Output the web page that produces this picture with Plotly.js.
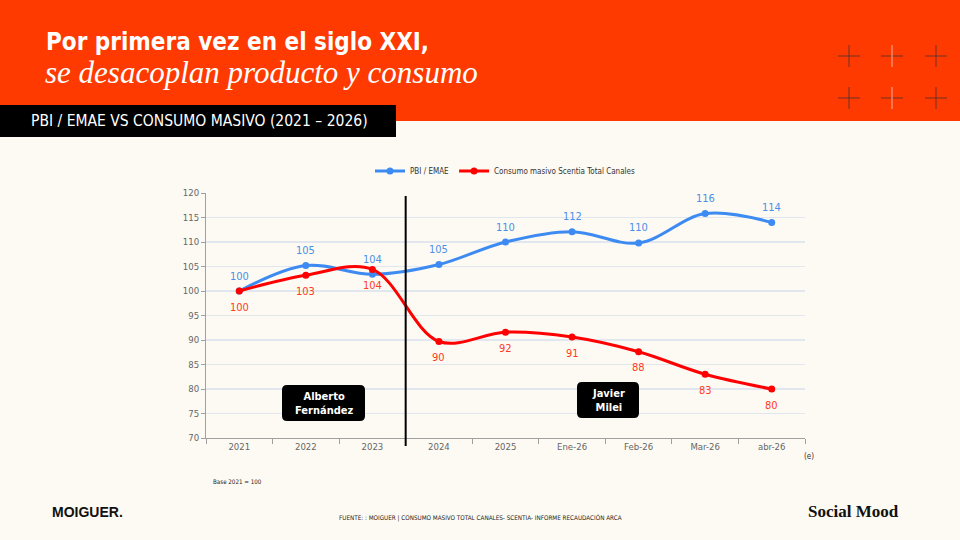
<!DOCTYPE html>
<html>
<head>
<meta charset="utf-8">
<script src="https://cdn.plot.ly/plotly-3.0.1.min.js"></script>
<style>
html,body{margin:0;padding:0;background:#FDFAF3;}
#chart{width:960px;height:540px;}
</style>
</head>
<body>
<div id="chart"></div>
<script>
// ---- data ----
const categories = ["2021","2022","2023","2024","2025","Ene-26","Feb-26","Mar-26","abr-26"];
const pbiValues = [100, 105.2, 103.4, 105.4, 110.0, 112.1, 109.8, 115.8, 114.0];
const pbiLabels = ["100","105","104","105","110","112","110","116","114"];
const consumoValues = [100, 103.2, 104.4, 89.7, 91.6, 90.6, 87.6, 83.0, 80.0];
const consumoLabels = ["100","103","104","90","92","91","88","83","80"];
const seriesNames = ["PBI / EMAE", "Consumo masivo Scentia Total Canales"];
const yTicks = [70,75,80,85,90,95,100,105,110,115,120];

// ---- layout helpers (page pixels -> paper) ----
const L=206, R=805, T=193, B=438;
const px = x => (x-L)/(R-L);
const py = y => (B-y)/(B-T);
function rr(x0,y0,x1,y1,r){
  return `M ${px(x0+r)},${py(y0)} L ${px(x1-r)},${py(y0)} Q ${px(x1)},${py(y0)} ${px(x1)},${py(y0+r)} `+
         `L ${px(x1)},${py(y1-r)} Q ${px(x1)},${py(y1)} ${px(x1-r)},${py(y1)} `+
         `L ${px(x0+r)},${py(y1)} Q ${px(x0)},${py(y1)} ${px(x0)},${py(y1-r)} `+
         `L ${px(x0)},${py(y0+r)} Q ${px(x0)},${py(y0)} ${px(x0+r)},${py(y0)} Z`;
}
const COND = "'DejaVu Sans Condensed', 'Liberation Sans Narrow', 'Arial Narrow', sans-serif";
const BLUE = "#3D8BF2", RED = "#FF0000";
const BLUE_T = "#4A90E8", RED_T = "#FF3B1F";

const traces = [
  {x: categories, y: pbiValues, name: seriesNames[0], type: "scatter", mode: "lines+markers",
   line: {color: BLUE, width: 3, shape: "spline", smoothing: 1}, marker: {color: BLUE, size: 7}},
  {x: categories, y: consumoValues, name: seriesNames[1], type: "scatter", mode: "lines+markers",
   line: {color: RED, width: 3, shape: "spline", smoothing: 1}, marker: {color: RED, size: 7}}
];

const annotations = [];
categories.forEach((c,i)=>{
  annotations.push({x:i, y:pbiValues[i], xref:"x", yref:"y", text:pbiLabels[i], showarrow:false,
    yshift:15, font:{family:COND, size:11, color:BLUE_T}});
  annotations.push({x:i, y:consumoValues[i], xref:"x", yref:"y", text:consumoLabels[i], showarrow:false,
    yshift:-16, font:{family:COND, size:11, color:RED_T}});
});
function txt(x,y,text,font,xanchor){
  annotations.push({xref:"paper", yref:"paper", x:px(x), y:py(y), text:text, showarrow:false,
    xanchor:xanchor||"left", yanchor:"middle", font:font, align:"center"});
}
txt(44, 42, "<b>Por primera vez en el siglo XXI,</b>", {family:COND, size:24, color:"#ffffff"});
txt(43, 73, "<i>se desacoplan producto y consumo</i>", {family:"'Liberation Serif', 'DejaVu Serif', serif", size:31, color:"#ffffff"});
txt(29, 121, "PBI / EMAE VS CONSUMO MASIVO (2021 – 2026)", {family:COND, size:15.5, color:"#ffffff"});
txt(323.5, 403, "<b>Alberto<br>Fernández</b>", {family:COND, size:11, color:"#ffffff"}, "center");
txt(608, 400, "<b>Javier<br>Milei</b>", {family:COND, size:11, color:"#ffffff"}, "center");
txt(802, 456, "(e)", {family:COND, size:8, color:"#333333"});
txt(211, 481, "Base 2021 = 100", {family:COND, size:6.2, color:"#222222"});
txt(50, 512, "<b>MOIGUER.</b>", {family:"'Liberation Sans', Arial, sans-serif", size:14, color:"#111111"});
txt(480, 518, "FUENTE: : MOIGUER | CONSUMO MASIVO TOTAL CANALES- SCENTIA- INFORME RECAUDACIÓN ARCA", {family:COND, size:6.3, color:"#222222"}, "center");
txt(901, 511, "<b>Social Mood</b>", {family:"'Liberation Serif', 'DejaVu Serif', serif", size:17, color:"#111111"}, "right");

const shapes = [
  {type:"rect", xref:"paper", yref:"paper", x0:px(0), x1:px(960), y0:py(121), y1:py(0), fillcolor:"#FF3A00", line:{width:0}, layer:"below"},
  {type:"rect", xref:"paper", yref:"paper", x0:px(0), x1:px(396), y0:py(137), y1:py(105), fillcolor:"#000000", line:{width:0}, layer:"below"},
  {type:"line", xref:"x", yref:"paper", x0:2.5, x1:2.5, y0:py(446), y1:py(196), line:{color:"#000000", width:2}},
  {type:"path", xref:"paper", yref:"paper", path: rr(282,385,365,421,5), fillcolor:"#000000", line:{width:0}},
  {type:"path", xref:"paper", yref:"paper", path: rr(577,382,639,418,5), fillcolor:"#000000", line:{width:0}}
];
[[849,56],[892,56],[936,56],[849,98],[892,98],[936,98]].forEach((p,i)=>{
  const light = (i%3===1);
  shapes.push({type:"line", xref:"paper", yref:"paper", x0:px(p[0]-11), x1:px(p[0]+11), y0:py(p[1]), y1:py(p[1]), line:{color:"rgba(80,50,45,0.7)", width:1.2}});
  shapes.push({type:"line", xref:"paper", yref:"paper", x0:px(p[0]), x1:px(p[0]), y0:py(p[1]-11), y1:py(p[1]+11), line:{color: light?"rgba(255,170,150,0.9)":"rgba(80,50,45,0.7)", width:1.2}});
});

const layout = {
  width:960, height:540, autosize:false,
  margin:{l:L, r:960-R, t:T, b:540-B, pad:0},
  paper_bgcolor:"#FDFAF3", plot_bgcolor:"rgba(0,0,0,0)",
  showlegend:true,
  legend:{orientation:"h", x:0.5, xanchor:"center", y:py(171), yanchor:"middle",
    font:{family:COND, size:8, color:"#333333"}, bgcolor:"rgba(0,0,0,0)", itemwidth:30},
  xaxis:{type:"category", categoryorder:"array", categoryarray:categories, range:[-0.5,8.5],
    tickson:"boundaries", ticks:"outside", ticklen:5, tickcolor:"#A0A0A0",
    showline:true, linecolor:"#A0A0A0", linewidth:1, showgrid:false, zeroline:false,
    tickfont:{family:COND, size:9.5, color:"#666666"}, fixedrange:true},
  yaxis:{range:[70,120], tickvals:yTicks, ticktext:yTicks.map(String), ticks:"outside", ticklen:4, tickcolor:"#A0A0A0",
    showline:true, linecolor:"#A0A0A0", linewidth:1, showgrid:true, gridcolor:"#E1E6EF", gridwidth:1.5,
    zeroline:false, tickfont:{family:COND, size:9.5, color:"#666666"}, fixedrange:true},
  annotations: annotations,
  shapes: shapes
};
Plotly.newPlot("chart", traces, layout, {displayModeBar:false, staticPlot:true});
</script>
</body>
</html>
